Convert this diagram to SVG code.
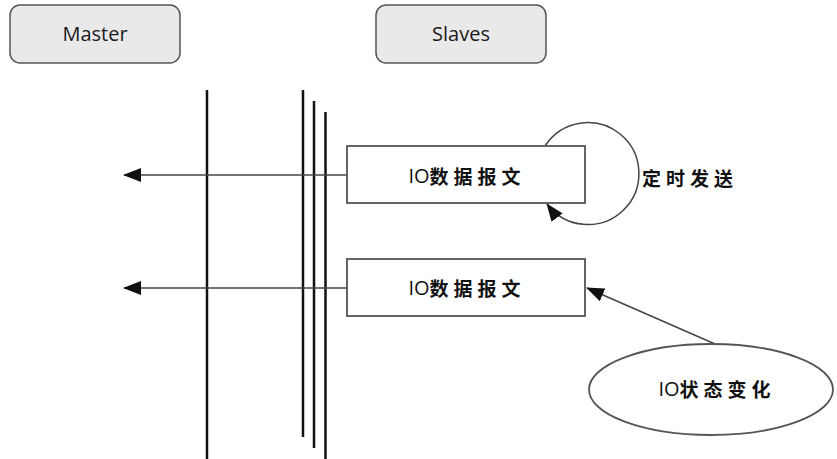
<svg xmlns="http://www.w3.org/2000/svg" width="837" height="459" viewBox="0 0 837 459">
<defs>
<style>
.hdr{fill:#e9e9e9;stroke:#555;stroke-width:1.5}
.hdrtxt{font-family:"Open Sans","Liberation Sans",sans-serif;font-size:20px;fill:#1a1a1a;text-anchor:middle;dominant-baseline:central}
.box{fill:#fff;stroke:#555;stroke-width:1.8}
.cjk{font-family:"Noto Sans CJK SC","Noto Sans",sans-serif;font-size:19px;font-weight:bold;fill:#111;text-anchor:middle;dominant-baseline:central;letter-spacing:5px}
.lat{letter-spacing:0px;font-weight:normal;font-family:"Open Sans","Noto Sans CJK SC",sans-serif;font-size:20px}
.bus{stroke:#111;stroke-width:2.5;fill:none}
.conn{stroke:#444;stroke-width:1.5;fill:none}
</style>
<marker id="ah2" markerWidth="18" markerHeight="14" refX="17" refY="7" orient="auto" markerUnits="userSpaceOnUse">
<path d="M0,0 L18,7 L0,14 z" fill="#111"/>
</marker>
</defs>
<g id="master">
<rect class="hdr" x="10" y="5" width="170" height="58" rx="10"/>
<text class="hdrtxt" x="95" y="33">Master</text>
</g>
<g id="slaves">
<rect class="hdr" x="376" y="5" width="170" height="58" rx="10"/>
<text class="hdrtxt" x="461" y="33">Slaves</text>
</g>
<g id="buses">
<line class="bus" x1="207" y1="90" x2="207" y2="459"/>
<line class="bus" x1="303" y1="90" x2="303" y2="437"/>
<line class="bus" x1="314" y1="101" x2="314" y2="448"/>
<line class="bus" x1="325.5" y1="112" x2="325.5" y2="459"/>
</g>
<g id="connectors">
<line class="conn" x1="347" y1="175" x2="124" y2="175" marker-end="url(#ah2)"/>
<line class="conn" x1="347" y1="288" x2="124" y2="288" marker-end="url(#ah2)"/>
<path class="conn" d="M545,146 A51,51 0 1 1 547,204" marker-end="url(#ah2)"/>
<line class="conn" x1="715" y1="344" x2="587" y2="288" marker-end="url(#ah2)"/>
</g>
<g id="msg1">
<rect class="box" x="347" y="146" width="238" height="57"/>
<text class="cjk" x="467" y="175"><tspan class="lat">IO</tspan>数据报文</text>
</g>
<g id="msg2">
<rect class="box" x="347" y="259" width="238" height="57"/>
<text class="cjk" x="467" y="287"><tspan class="lat">IO</tspan>数据报文</text>
</g>
<g id="timer-label">
<text class="cjk" x="690" y="177">定时发送</text>
</g>
<g id="io-change">
<ellipse class="box" cx="711" cy="389.5" rx="122" ry="45.5"/>
<text class="cjk" x="717" y="388"><tspan class="lat">IO</tspan>状态变化</text>
</g>
</svg>
